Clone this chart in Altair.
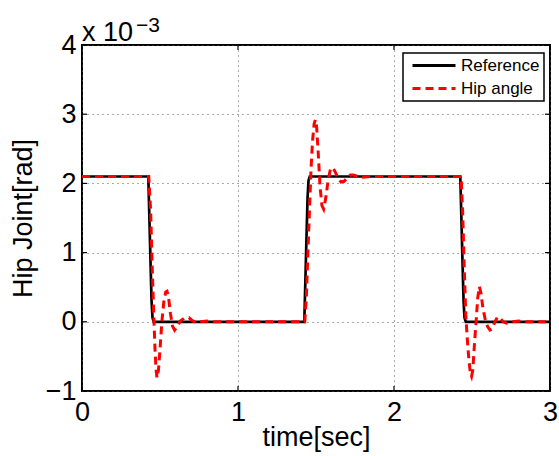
import altair as alt
import pandas as pd

# ---- data (values in units of 1e-3 rad) ----
series_names = ["Reference", "Hip angle"]

ref_time = [0.0, 0.425, 0.432, 0.440, 0.446, 0.452, 0.460,
            1.425, 1.432, 1.440, 1.446, 1.452, 1.460,
            2.425, 2.432, 2.440, 2.446, 2.452, 2.460, 3.0]
ref_value = [2.1, 2.1, 1.5, 0.8, 0.3, 0.06, 0.0,
             0.0, 0.6, 1.3, 1.8, 2.04, 2.1,
             2.1, 1.5, 0.8, 0.3, 0.06, 0.0, 0.0]

hip_time = [0.0, 0.428, 0.440, 0.450, 0.460, 0.468, 0.475, 0.481, 0.490, 0.500,
            0.512, 0.525, 0.537, 0.545, 0.555, 0.567, 0.580, 0.594, 0.610, 0.630,
            0.655, 0.685, 0.705, 0.730, 0.760, 0.800, 0.850,
            1.428, 1.438, 1.448, 1.458, 1.468, 1.478, 1.488, 1.496, 1.504, 1.514,
            1.526, 1.538, 1.549, 1.562, 1.578, 1.592, 1.605, 1.620, 1.640, 1.660,
            1.680, 1.700, 1.720, 1.740, 1.770, 1.800, 1.850,
            2.430, 2.440, 2.450, 2.460, 2.470, 2.480, 2.490, 2.497, 2.505, 2.515,
            2.526, 2.537, 2.547, 2.557, 2.570, 2.585, 2.600, 2.615, 2.630, 2.645,
            2.663, 2.680, 2.700, 2.720, 2.750, 2.800, 2.850, 3.0]
hip_value = [2.1, 2.1, 1.6, 0.8, 0.1, -0.4, -0.7, -0.81, -0.7, -0.4,
             0.0, 0.3, 0.43, 0.44, 0.35, 0.12, -0.06, -0.12, -0.07, 0.01,
             0.05, 0.06, 0.02, -0.01, 0.0, 0.01, 0.0,
             0.0, 0.35, 1.0, 1.6, 2.2, 2.62, 2.86, 2.92, 2.82, 2.45,
             1.95, 1.68, 1.63, 1.78, 2.05, 2.2, 2.23, 2.18, 2.08, 2.02,
             2.03, 2.08, 2.12, 2.12, 2.1, 2.09, 2.1,
             2.1, 1.6, 0.8, 0.1, -0.25, -0.55, -0.75, -0.79, -0.7, -0.35,
             0.0, 0.35, 0.51, 0.42, 0.2, 0.03, -0.07, -0.12, -0.1, -0.01,
             0.07, 0.05, 0.0, -0.02, 0.0, 0.01, 0.0, 0.0]

x_ticks = [0, 1, 2, 3]
y_ticks = [-1, 0, 1, 2, 3, 4]
exp_base = ["x 10"]
exp_power = ["\u22123"]

ref_df = pd.DataFrame({"t": ref_time, "v": ref_value, "series": series_names[0]})
hip_df = pd.DataFrame({"t": hip_time, "v": hip_value, "series": series_names[1]})
xt_df = pd.DataFrame({"t": x_ticks})
yt_df = pd.DataFrame({"v": y_ticks})

W, H = 468, 346
FONT = "Liberation Sans"

x_enc = alt.X("t:Q", scale=alt.Scale(domain=[0, 3], nice=False, zero=False),
              axis=alt.Axis(values=x_ticks, title="time[sec]", labelPadding=8,
                            titleY=54, titleBaseline="alphabetic"))
y_enc = alt.Y("v:Q", scale=alt.Scale(domain=[-1, 4], nice=False, zero=False),
              axis=alt.Axis(values=y_ticks, title="Hip Joint[rad]", format="d",
                            labelPadding=6, titleX=-51, titleBaseline="alphabetic"))

color_enc = alt.Color("series:N",
                      scale=alt.Scale(domain=series_names, range=["#000000", "#ff0000"]),
                      legend=alt.Legend(title=None, orient="none", legendX=321, legendY=8))
dash_enc = alt.StrokeDash("series:N",
                          scale=alt.Scale(domain=series_names, range=[[1, 0], [8, 5]]),
                          legend=alt.Legend(title=None, orient="none", legendX=321, legendY=8))

ref_line = alt.Chart(ref_df).mark_line(strokeWidth=2.7, interpolate="linear").encode(
    x=x_enc, y=y_enc, color=color_enc, strokeDash=dash_enc)
hip_line = alt.Chart(hip_df).mark_line(strokeWidth=3, interpolate="linear").encode(
    x=x_enc, y=y_enc, color=color_enc, strokeDash=dash_enc)

tick_style = dict(color="black", strokeWidth=1.2)
xt_bottom = alt.Chart(xt_df).mark_rule(**tick_style).encode(
    x=x_enc, y=alt.value(H), y2=alt.value(H - 5))
xt_top = alt.Chart(xt_df).mark_rule(**tick_style).encode(
    x=x_enc, y=alt.value(0), y2=alt.value(5))
yt_left = alt.Chart(yt_df).mark_rule(**tick_style).encode(
    y=y_enc, x=alt.value(0), x2=alt.value(5))
yt_right = alt.Chart(yt_df).mark_rule(**tick_style).encode(
    y=y_enc, x=alt.value(W), x2=alt.value(W - 5))

exp1 = alt.Chart(pd.DataFrame({"s": exp_base})).mark_text(
    align="left", baseline="alphabetic", font=FONT, fontSize=27, color="black").encode(
    text="s:N", x=alt.value(0), y=alt.value(-4))
exp2 = alt.Chart(pd.DataFrame({"s": exp_power})).mark_text(
    align="left", baseline="alphabetic", font=FONT, fontSize=21, color="black").encode(
    text="s:N", x=alt.value(54), y=alt.value(-13))

chart = alt.layer(
    ref_line, hip_line, xt_bottom, xt_top, yt_left, yt_right, exp1, exp2
).properties(
    width=W, height=H,
    autosize="none",
    padding={"left": 82, "top": 45, "right": 9, "bottom": 65},
).configure_view(
    stroke="black", strokeWidth=2
).configure_axis(
    grid=True, gridDash=[1, 4], gridColor="#555555", gridWidth=1, gridOpacity=1,
    domain=False, ticks=False, labelFlush=False, labelOverlap=False,
    labelFont=FONT, labelFontSize=27, labelColor="black",
    titleFont=FONT, titleFontSize=27, titleFontWeight="normal", titleColor="black",
).configure_legend(
    fillColor="white", strokeColor="black", strokeWidth=1.5,
    padding=4, rowPadding=5, symbolOffset=4, labelOffset=4, clipHeight=17,
    symbolType="stroke", symbolSize=1849, symbolStrokeWidth=3,
    labelFont=FONT, labelFontSize=17, labelColor="black", labelLimit=300,
)

chart.save("out.html", embed_options={"renderer": "svg", "actions": False})
